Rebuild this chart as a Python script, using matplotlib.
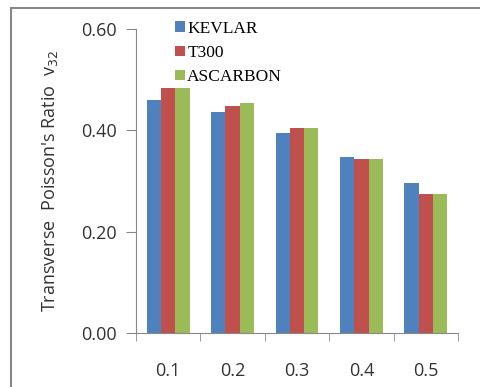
import matplotlib.pyplot as plt
import numpy as np
from matplotlib.patches import Rectangle

# Transverse Poisson's ratio for three fibre types
categories = ["0.1", "0.2", "0.3", "0.4", "0.5"]
kevlar = [0.460, 0.436, 0.395, 0.347, 0.296]
t300 = [0.483, 0.448, 0.405, 0.343, 0.274]
ascarbon = [0.483, 0.453, 0.405, 0.343, 0.274]
series_names = ["KEVLAR", "T300", "ASCARBON"]
colors = ["#4F81BD", "#C0504D", "#9BBB59"]

fig = plt.figure(figsize=(4.81, 3.87), dpi=100)
ax = fig.add_axes([136 / 481, 1 - 333 / 387, 322 / 481, 304 / 387])

# chart area border, runs off the right and bottom edges
fig.patches.append(Rectangle((11 / 481, -0.1), 1.2, 1 - 8 / 387 + 0.1,
                             transform=fig.transFigure, fill=False,
                             edgecolor="#888888", linewidth=1.5))

x = np.arange(len(categories))
width = 0.667 / 3
for i, (vals, name, c) in enumerate(zip([kevlar, t300, ascarbon], series_names, colors)):
    ax.bar(x + (i - 1) * width, vals, width, color=c, label=name,
           edgecolor="none")

ax.set_xlim(-0.5, len(categories) - 0.5)
ax.set_ylim(0, 0.6)
ax.set_yticks([0, 0.2, 0.4, 0.6])
ax.set_yticklabels(["0.00", "0.20", "0.40", "0.60"])
ax.set_xticks(x)
ax.set_xticklabels(categories)
ax.set_xticks(np.arange(-0.5, len(categories)), minor=True)
ax.tick_params(axis="x", which="major", length=0, pad=21)
ax.tick_params(axis="x", which="minor", length=6, color="#888888")
ax.tick_params(axis="y", length=7, color="#888888", pad=7)
for lab in ax.get_xticklabels() + ax.get_yticklabels():
    lab.set_fontfamily("Open Sans")
    lab.set_fontsize(13)
    lab.set_color("#333333")

for side in ["top", "right"]:
    ax.spines[side].set_visible(False)
for side in ["left", "bottom"]:
    ax.spines[side].set_color("#888888")

fig.text(50 / 481, 1 - 181 / 387, "Transverse  Poisson's Ratio  v$_{32}$",
         rotation=90, ha="center", va="center", fontsize=13,
         fontfamily="Open Sans", color="#333333")

leg = ax.legend(loc="upper left", bbox_to_anchor=(0.10, 1.05), frameon=False,
                prop={"family": "Liberation Serif", "size": 12.5},
                handlelength=0.55, handleheight=0.55, handletextpad=0.15,
                labelspacing=0.48, borderaxespad=0)

fig.savefig("out.png", dpi=100)
